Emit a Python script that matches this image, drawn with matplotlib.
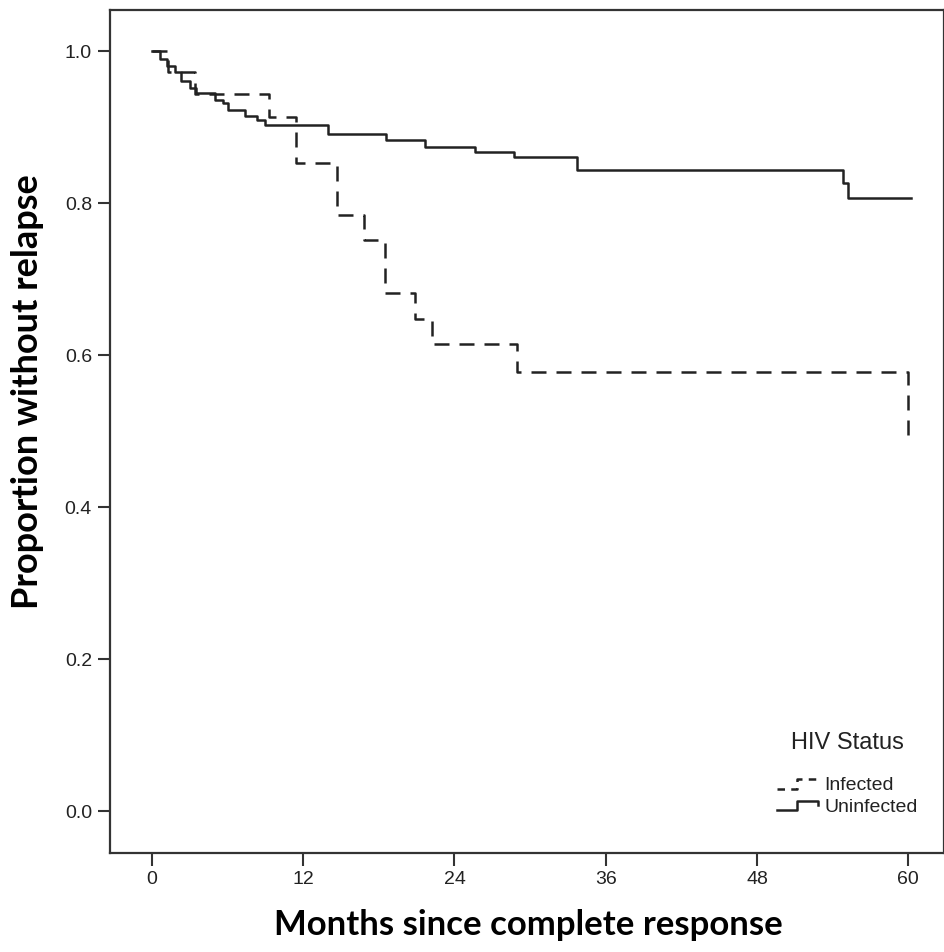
import matplotlib.pyplot as plt
from matplotlib.legend_handler import HandlerBase
from matplotlib.lines import Line2D

# Kaplan-Meier steps (months, proportion without relapse)
uninf_months = [0, 0.6, 1.2, 1.8, 2.3, 3.0, 3.5, 5.0, 5.6, 6.0, 7.4, 8.3, 9.0,
                14.0, 18.6, 21.7, 25.6, 28.7, 33.7, 54.8, 55.2, 60.2]
uninf_surv = [1.0, 0.99, 0.98, 0.972, 0.961, 0.951, 0.945, 0.936, 0.932, 0.922,
              0.914, 0.909, 0.903, 0.891, 0.883, 0.874, 0.867, 0.861, 0.843,
              0.826, 0.807, 0.807]

inf_months = [0, 1.3, 3.4, 9.3, 11.4, 14.7, 16.8, 18.5, 20.9, 22.2, 29.0, 60.0]
inf_surv = [1.0, 0.972, 0.944, 0.913, 0.853, 0.784, 0.751, 0.682, 0.647, 0.614,
            0.578, 0.495]

x_ticks = [0, 12, 24, 36, 48, 60]
y_ticks = [0.0, 0.2, 0.4, 0.6, 0.8, 1.0]

line_col = "#222222"


class StepHandler(HandlerBase):
    # draws the little step symbol SPSS puts in its legend
    def create_artists(self, legend, orig, xd, yd, w, h, fontsize, trans):
        xs = [xd, xd + 0.45 * w, xd + 0.45 * w, xd + 0.9 * w, xd + 0.9 * w]
        ys = [yd + 0.1 * h, yd + 0.1 * h, yd + 0.8 * h, yd + 0.8 * h, yd + 0.5 * h]
        ln = Line2D(xs, ys, color=orig.get_color(), lw=orig.get_linewidth(),
                    linestyle=orig.get_linestyle(), transform=trans)
        if orig.get_linestyle() != "-":
            ln.set_dashes((3, 2.5))
        return [ln]


plt.rcParams["font.family"] = ["Liberation Sans", "DejaVu Sans"]

fig = plt.figure(figsize=(9.44, 9.52), dpi=100)
ax = fig.add_axes([0.1165, 0.104, 0.883, 0.8855])

l_inf, = ax.step(inf_months, inf_surv, where="post", color=line_col, lw=1.8,
                 linestyle=(0, (6, 4)), label="Infected")
l_un, = ax.step(uninf_months, uninf_surv, where="post", color=line_col, lw=1.8,
                label="Uninfected")

ax.set_xlim(-3.33, 62.8)
ax.set_ylim(-0.055, 1.054)
ax.set_xticks(x_ticks)
ax.set_xticklabels([str(t) for t in x_ticks])
ax.set_yticks(y_ticks)
ax.set_yticklabels(["%.1f" % t for t in y_ticks])
ax.tick_params(direction="out", length=9, width=1.5, color="#333333",
               labelsize=14, labelcolor="#222222", pad=4)
for sp in ax.spines.values():
    sp.set_linewidth(1.6)
    sp.set_color("#333333")

lab_font = dict(family="Lato", weight="bold", size=25, color="black")
ax.set_xlabel("Months since complete response", **lab_font)
ax.set_ylabel("Proportion without relapse", size=26,
              **{k: v for k, v in lab_font.items() if k != "size"})
ax.xaxis.set_label_coords(0.502, -0.066)
ax.yaxis.set_label_coords(-0.079, 0.547)

leg = ax.legend(handles=[l_inf, l_un], title="HIV Status", loc="lower right",
                bbox_to_anchor=(0.978, 0.035), frameon=False, fontsize=14,
                title_fontsize=17, handlelength=2.3, handletextpad=0.1,
                labelspacing=0.2, borderaxespad=0,
                handler_map={Line2D: StepHandler()})
leg._legend_box.sep = 16
for t in leg.get_texts():
    t.set_color("#222222")
leg.get_title().set_color("#222222")

fig.savefig("out.png", dpi=100)
